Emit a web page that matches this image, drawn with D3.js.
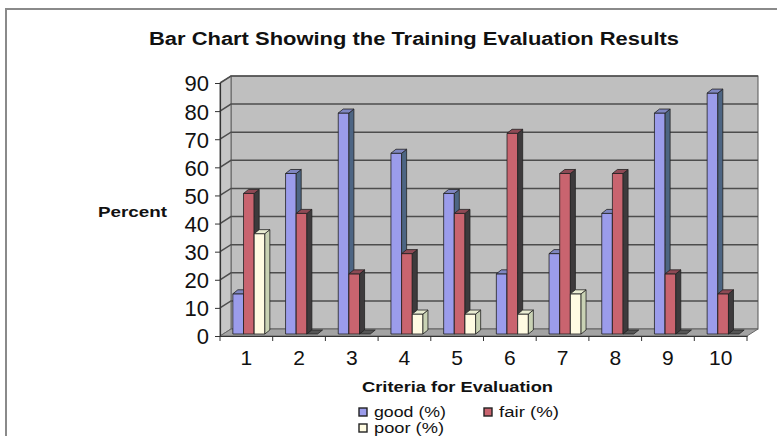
<!DOCTYPE html>
<html lang="en">
<head>
    <meta charset="UTF-8">
    <title>Training Evaluation Results</title>
    <script src="https://d3js.org/d3.v7.min.js"></script>
    <style>
        body { margin: 0; background: #fff; }
        text { font-family: "Liberation Sans", Arial, sans-serif; fill: #111; }
    </style>
</head>
<body>
    <svg id="chart" width="777" height="436"></svg>

    <script>
        // Chart data
        const categories = ["1", "2", "3", "4", "5", "6", "7", "8", "9", "10"];
        const seriesNames = ["good (%)", "fair (%)", "poor (%)"];
        const good = [14.3, 57.1, 78.6, 64.3, 50, 21.4, 28.6, 42.9, 78.6, 85.7];
        const fair = [50, 42.9, 21.4, 28.6, 42.9, 71.4, 57.1, 57.1, 21.4, 14.3];
        const poor = [35.7, 0, 0, 7.1, 7.1, 7.1, 14.3, 0, 0, 0];
        const yTicks = [0, 10, 20, 30, 40, 50, 60, 70, 80, 90];

        const svg = d3.select("#chart");

        // front plane and depth offset of the 3d box
        const pLeft = 220, pRight = 747, pBase = 336, pTop = 83;
        const dx = 11, dy = -7;

        const x = d3.scaleBand().domain(categories).range([pLeft, pRight]);
        const y = d3.scaleLinear().domain([0, 90]).range([pBase, pTop]);
        const xs = d3.scaleBand().domain(seriesNames).range([0, 32]);

        // colours: front, side, top
        const colors = {
            "good (%)": ["#9b9ceb", "#4d6583", "#7f86c0"],
            "fair (%)": ["#c9646f", "#3d3a3c", "#8d4a55"],
            "poor (%)": ["#fffbe2", "#c9d2b4", "#e9ecd2"]
        };

        // outer frame
        svg.append("rect")
            .attr("x", 6).attr("y", 9)
            .attr("width", 800).attr("height", 450)
            .attr("fill", "none")
            .attr("stroke", "#8a8a8a")
            .attr("stroke-width", 2);

        // title
        svg.append("text")
            .attr("x", 149).attr("y", 45)
            .attr("font-size", 18)
            .attr("font-weight", "bold")
            .attr("fill", "#333")
            .attr("textLength", 530)
            .attr("lengthAdjust", "spacingAndGlyphs")
            .text("Bar Chart Showing the Training Evaluation Results");

        const pts = p => p.map(d => d.join(",")).join(" ");

        // back wall
        svg.append("rect")
            .attr("x", pLeft + dx).attr("y", pTop + dy)
            .attr("width", pRight - pLeft).attr("height", pBase - pTop)
            .attr("fill", "#bfbfbf")
            .attr("stroke", "#555").attr("stroke-width", 1);

        // left wall
        svg.append("polygon")
            .attr("points", pts([[pLeft, pTop], [pLeft + dx, pTop + dy], [pLeft + dx, pBase + dy], [pLeft, pBase]]))
            .attr("fill", "#c6c6c6")
            .attr("stroke", "#666").attr("stroke-width", 1);

        // floor
        svg.append("polygon")
            .attr("points", pts([[pLeft, pBase], [pLeft + dx, pBase + dy], [pRight + dx, pBase + dy], [pRight, pBase]]))
            .attr("fill", "#a3a3a3")
            .attr("stroke", "#666").attr("stroke-width", 1);

        // gridlines
        const grid = svg.append("g").attr("stroke", "#4d4d4d").attr("stroke-width", 1.5).attr("fill", "none");
        yTicks.filter(t => t > 0).forEach(t => {
            grid.append("polyline")
                .attr("points", pts([[pLeft, y(t)], [pLeft + dx, y(t) + dy], [pRight + dx, y(t) + dy]]));
        });

        // bars
        const values = { "good (%)": good, "fair (%)": fair, "poor (%)": poor };
        const fx = 2.5, fy = -2, bdx = 5, bdy = -4;
        const bw = xs.bandwidth();
        const barsG = svg.append("g").attr("stroke", "#222").attr("stroke-width", 0.8).attr("stroke-linejoin", "round");
        categories.forEach((c, i) => {
            const gx = x(c) + (x.bandwidth() - 32) / 2 + fx;
            seriesNames.forEach(s => {
                const v = values[s][i];
                const x0 = gx + xs(s), x1 = x0 + bw;
                const yb = y(0) + fy, yt = y(v) + fy;
                const col = colors[s];
                if (v > 0) {
                    barsG.append("rect")
                        .attr("x", x0).attr("y", yt)
                        .attr("width", bw).attr("height", yb - yt)
                        .attr("fill", col[0]);
                    barsG.append("polygon")
                        .attr("points", pts([[x1, yt], [x1 + bdx, yt + bdy], [x1 + bdx, yb + bdy], [x1, yb]]))
                        .attr("fill", col[1]);
                    barsG.append("polygon")
                        .attr("points", pts([[x0, yt], [x0 + bdx, yt + bdy], [x1 + bdx, yt + bdy], [x1, yt]]))
                        .attr("fill", col[2]);
                } else {
                    // zero value: flat slab on the floor
                    barsG.append("polygon")
                        .attr("points", pts([[x0, yb], [x0 + bdx, yb + bdy], [x1 + bdx, yb + bdy], [x1, yb]]))
                        .attr("fill", "#555");
                }
            });
        });

        // y axis
        const yAxis = svg.append("g")
            .attr("transform", `translate(${pLeft},0)`)
            .call(d3.axisLeft(y).tickValues(yTicks).tickSize(5).tickPadding(6));
        yAxis.select(".domain").attr("stroke", "#333").attr("stroke-width", 1.2);
        yAxis.selectAll(".tick line").attr("stroke", "#333");
        yAxis.selectAll("text").attr("font-size", 22).attr("fill", "#111").attr("dy", "0.36em");

        // x axis
        const xAxis = svg.append("g")
            .attr("transform", `translate(0,${pBase})`)
            .call(d3.axisBottom(x).tickSize(0).tickPadding(14));
        xAxis.select(".domain").attr("stroke", "#333").attr("stroke-width", 1.2);
        xAxis.selectAll("text").attr("font-size", 21).attr("fill", "#111");
        // ticks between categories
        xAxis.selectAll(".sep")
            .data(categories.concat(["end"]))
            .enter().append("line")
            .attr("x1", (d, i) => pLeft + i * x.step())
            .attr("x2", (d, i) => pLeft + i * x.step())
            .attr("y1", 0).attr("y2", 5)
            .attr("stroke", "#333");

        // axis titles
        svg.append("text")
            .attr("x", 98).attr("y", 217)
            .attr("font-size", 15).attr("font-weight", "bold")
            .attr("fill", "#333")
            .attr("textLength", 69).attr("lengthAdjust", "spacingAndGlyphs")
            .text("Percent");
        svg.append("text")
            .attr("x", 362).attr("y", 392)
            .attr("font-size", 15).attr("font-weight", "bold")
            .attr("fill", "#333")
            .attr("textLength", 191).attr("lengthAdjust", "spacingAndGlyphs")
            .text("Criteria for Evaluation");

        // legend
        const legendPos = [[359, 417], [484, 417], [359, 433]];
        const legendLen = [72, 60, 70];
        const legend = svg.append("g")
            .selectAll("g")
            .data(seriesNames)
            .enter().append("g")
            .attr("transform", (d, i) => `translate(${legendPos[i][0]},${legendPos[i][1]})`);
        legend.append("rect")
            .attr("x", 0).attr("y", -9)
            .attr("width", 8).attr("height", 8)
            .attr("fill", d => colors[d][0])
            .attr("stroke", "#222").attr("stroke-width", 1.4);
        legend.append("text")
            .attr("x", 15).attr("y", 0)
            .attr("font-size", 14)
            .attr("fill", "#222")
            .attr("textLength", (d, i) => legendLen[i]).attr("lengthAdjust", "spacingAndGlyphs")
            .text(d => d);
    </script>
</body>
</html>
